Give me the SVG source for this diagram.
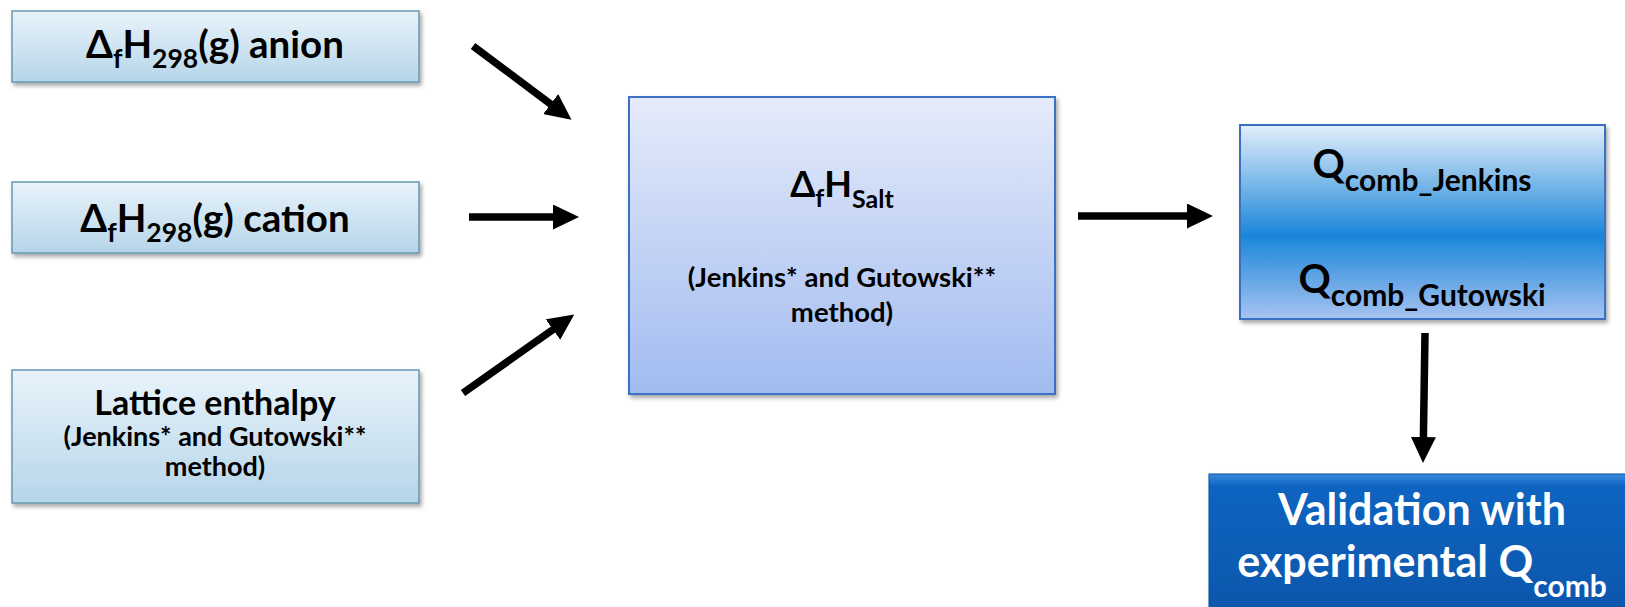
<svg xmlns="http://www.w3.org/2000/svg" width="1625" height="607" viewBox="0 0 1625 607">
  <defs>
    <linearGradient id="gLight" x1="0" y1="0" x2="0" y2="1">
      <stop offset="0" stop-color="#e8f3fa"/>
      <stop offset="1" stop-color="#b6d5e9"/>
    </linearGradient>
    <linearGradient id="gSalt" x1="0" y1="0" x2="0" y2="1">
      <stop offset="0" stop-color="#e5ebfa"/>
      <stop offset="1" stop-color="#a1bbf0"/>
    </linearGradient>
    <linearGradient id="gQ" x1="0" y1="0" x2="0" y2="1">
      <stop offset="0" stop-color="#e3eefa"/>
      <stop offset="0.57" stop-color="#1a86d9"/>
      <stop offset="1" stop-color="#a7c3f1"/>
    </linearGradient>
    <linearGradient id="gVal" x1="0" y1="0" x2="0" y2="1">
      <stop offset="0" stop-color="#3a8ade"/>
      <stop offset="0.08" stop-color="#0f64c0"/>
      <stop offset="1" stop-color="#0a55aa"/>
    </linearGradient>
    <filter id="shadow" x="-10%" y="-10%" width="125%" height="130%">
      <feDropShadow dx="2" dy="3" stdDeviation="2" flood-color="#000" flood-opacity="0.35"/>
    </filter>
    <marker id="head" markerUnits="userSpaceOnUse" viewBox="0 -12.5 26 25" refX="1" refY="0" markerWidth="26" markerHeight="25" orient="auto">
      <path d="M0,-12.5 L26,0 L0,12.5 Z" fill="#000"/>
    </marker>
    <style>
      .light { fill: url(#gLight); stroke: #6a96b2; stroke-width: 1.5; filter: url(#shadow); }
      .salt { fill: url(#gSalt); stroke: #3a6fc4; stroke-width: 2; filter: url(#shadow); }
      .q { fill: url(#gQ); stroke: #3a70c0; stroke-width: 2; filter: url(#shadow); }
      .val { fill: url(#gVal); stroke: #0a4f9e; stroke-width: 1; filter: url(#shadow); }
      text { font-family: Lato, "Liberation Sans", sans-serif; font-weight: bold; fill: #000; text-anchor: middle; }
      .big { font-size: 38.5px; }
      .title { font-size: 36px; }
      .lat { font-size: 34px; }
      .note { font-size: 27.5px; }
      .sub { font-size: 26.5px; }
      .qbig { font-size: 40px; }
      .qsub { font-size: 30px; }
      .white { fill: #fff; }
      .arrow { stroke: #000; stroke-width: 7.5; fill: none; marker-end: url(#head); }
    </style>
  </defs>

  <g id="anion">
    <rect class="light" x="12" y="11" width="407" height="71"/>
    <text class="big" x="215" y="58">Δ<tspan class="sub" dy="10">f</tspan><tspan dy="-10">H</tspan><tspan class="sub" dy="10">298</tspan><tspan dy="-10">(g) anion</tspan></text>
  </g>

  <g id="cation">
    <rect class="light" x="12" y="182" width="407" height="71"/>
    <text class="big" x="215" y="232">Δ<tspan class="sub" dy="10">f</tspan><tspan dy="-10">H</tspan><tspan class="sub" dy="10">298</tspan><tspan dy="-10">(g) cation</tspan></text>
  </g>

  <g id="lattice">
    <rect class="light" x="12" y="370" width="407" height="133"/>
    <text class="lat" x="215" y="415">Lattice enthalpy</text>
    <text class="note" x="215" y="446" style="font-size:27px">(Jenkins* and Gutowski**</text>
    <text class="note" x="215" y="476" style="font-size:27px">method)</text>
  </g>

  <g id="salt">
    <rect class="salt" x="629" y="97" width="426" height="297"/>
    <text class="title" x="842" y="197">Δ<tspan class="sub" dy="10" style="font-size:25px">f</tspan><tspan dy="-10">H</tspan><tspan class="sub" dy="11" style="font-size:25px">Salt</tspan></text>
    <text class="note" x="842" y="287">(Jenkins* and Gutowski**</text>
    <text class="note" x="842" y="322">method)</text>
  </g>

  <g id="qcomb">
    <rect class="q" x="1240" y="125" width="365" height="194"/>
    <text class="qbig" x="1422" y="178">Q<tspan class="qsub" dy="13">comb_Jenkins</tspan></text>
    <text class="qbig" x="1422" y="293">Q<tspan class="qsub" dy="13">comb_Gutowski</tspan></text>
  </g>

  <g id="validation">
    <rect class="val" x="1209" y="474" width="430" height="150"/>
    <text class="white" x="1422" y="525" style="font-size:43px">Validation with</text>
    <text class="white" x="1422" y="577" style="font-size:43px">experimental Q<tspan dy="20" style="font-size:30px">comb</tspan></text>
  </g>

  <g id="connectors">
    <line class="arrow" x1="473" y1="46" x2="551.5" y2="104.7"/>
    <line class="arrow" x1="469" y1="217" x2="554" y2="217"/>
    <line class="arrow" x1="463" y1="393" x2="553.8" y2="329"/>
    <line class="arrow" x1="1078" y1="216" x2="1188" y2="216"/>
    <line class="arrow" x1="1425" y1="333" x2="1423.4" y2="438"/>
  </g>
</svg>
